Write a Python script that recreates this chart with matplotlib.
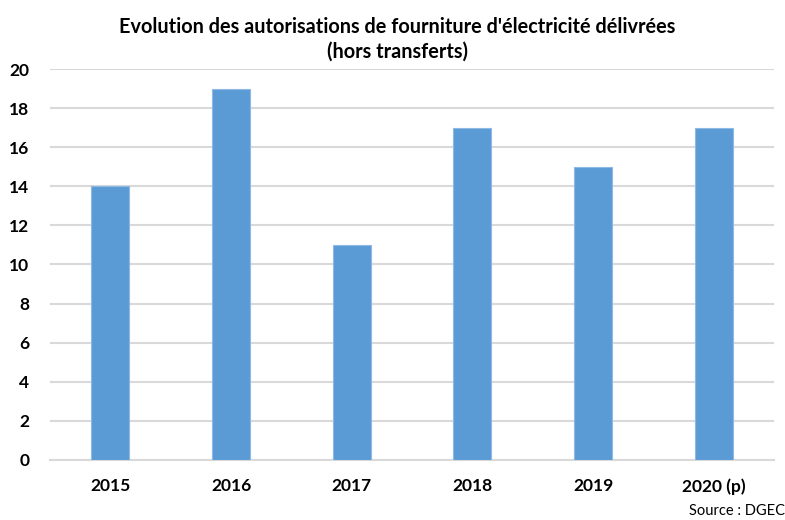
import numpy as np
import matplotlib.pyplot as plt

years = ['2015', '2016', '2017', '2018', '2019', '2020 (p)']
autorisations = [14, 19, 11, 17, 15, 17]

plt.rcParams['font.family'] = ['Lato', 'DejaVu Sans']

fig = plt.figure(figsize=(7.85, 5.2), dpi=100)
ax = fig.add_axes([0.0637, 0.1154, 0.9223, 0.7519])

x = np.arange(len(years))
ax.bar(x, autorisations, width=0.315, color='#5B9BD5', edgecolor='#8DB9E4',
       linewidth=0.8, zorder=3)

ax.set_xlim(-0.5, len(years) - 0.5)
ax.set_ylim(0, 20)
ax.set_yticks(range(0, 21, 2))
ax.set_xticks(x)
ax.set_xticklabels(years)
ax.grid(axis='y', color='#D9D9D9', linewidth=1.5, zorder=0)
for s in ['top', 'right', 'left']:
    ax.spines[s].set_visible(False)
ax.spines['bottom'].set_color('#D9D9D9')
ax.spines['bottom'].set_linewidth(1.5)
ax.tick_params(axis='both', length=0, labelsize=12.5, colors='black')
ax.tick_params(axis='x', pad=13)
ax.tick_params(axis='y', pad=15)
for lbl in ax.get_xticklabels() + ax.get_yticklabels():
    lbl.set_fontweight('bold')

fig.text(0.506, 0.968, "Evolution des autorisations de fourniture d'électricité délivrées\n(hors transferts)",
         ha='center', va='top', fontsize=14.3, fontweight='bold', linespacing=1.3)
fig.text(0.878, 0.003, 'Source : DGEC', ha='left', va='bottom', fontsize=10.5)

fig.savefig('out.png', dpi=100)
